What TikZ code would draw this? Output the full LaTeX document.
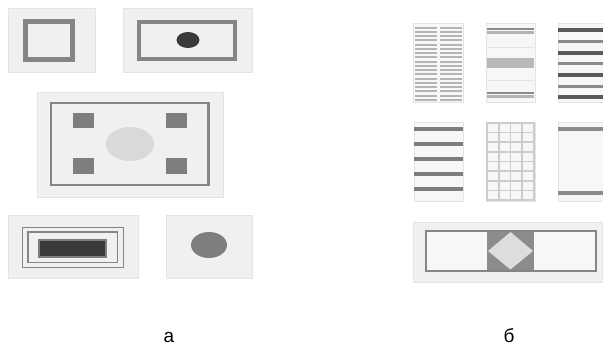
\documentclass[tikz,border=0pt]{standalone}
\usepackage{fontspec}
\setmainfont{Liberation Sans}
\definecolor{panelbg}{HTML}{F0F0F0}
\definecolor{panelline}{HTML}{E4E4E4}
\definecolor{framegray}{HTML}{858585}
\definecolor{darkfill}{HTML}{3A3A3A}
\definecolor{midgray}{HTML}{7E7E7E}
\definecolor{lightoval}{HTML}{D9D9D9}
\definecolor{paper}{HTML}{F9F7F5}
\definecolor{stripelight}{HTML}{B4B4B4}
\definecolor{stripedark}{HTML}{5A5A5A}
\definecolor{stripemid}{HTML}{8C8C8C}
\definecolor{gridline}{HTML}{CDCDCD}
\tikzset{
  panel/.style={fill=panelbg, draw=panelline, line width=0.6pt},
  paperpanel/.style={fill=paper, draw=panelline, line width=0.6pt},
  frame/.style={draw=framegray},
  label/.style={font=\fontsize{19}{22}\selectfont, inner sep=0pt}
}
\begin{document}
\begin{tikzpicture}[x=1pt,y=-1pt]
\useasboundingbox[fill=white] (0,0) rectangle (603,348);
% ---------- left group (a) ----------
% panel 1
\draw[panel] (8,8) rectangle (95,72);
\draw[frame, line width=5.5pt] (25.5,21.5) rectangle (72.5,59.5);
% panel 2
\draw[panel] (123,8) rectangle (252,72);
\draw[frame, line width=4pt] (139,22) rectangle (235,59);
\fill[darkfill] (188,40) ellipse [x radius=11.5, y radius=8];
% panel 3
\draw[panel] (37,92) rectangle (223,197);
\draw[frame, line width=2.8pt] (51,103) rectangle (208.5,185);
\fill[midgray] (73,113) rectangle (94,128);
\fill[midgray] (166,113) rectangle (187,128);
\fill[midgray] (73,158) rectangle (94,174);
\fill[midgray] (166,158) rectangle (187,174);
\fill[lightoval] (130,144) ellipse [x radius=24, y radius=17];
% panel 4
\draw[panel] (8,215) rectangle (138,278);
\draw[frame, line width=1.6pt] (22.5,227.5) rectangle (123.5,267.5);
\draw[frame, line width=1.6pt] (28,232) rectangle (117.5,262.5);
\draw[fill=darkfill, draw=midgray, line width=2.2pt] (39,240) rectangle (106,257);
% panel 5
\draw[panel] (166,215) rectangle (252,278);
\fill[midgray] (209,245) ellipse [x radius=18, y radius=13];
% ---------- right group (b) ----------
% r1: two columns of thin stripes
\draw[paperpanel] (413,23) rectangle (463,102);
\foreach \i in {0,...,17}{
  \fill[stripelight] (415,{26.5+\i*4.25}) rectangle (436.5,{28.7+\i*4.25});
  \fill[stripelight] (440,{26.5+\i*4.25}) rectangle (461.5,{28.7+\i*4.25});
}
% r2
\draw[paperpanel] (486,23) rectangle (535,102);
\fill[stripemid] (487,27.5) rectangle (534,30);
\fill[stripelight] (487,30.8) rectangle (534,33.5);
\draw[panelline, line width=0.5pt] (487,47) -- (534,47);
\fill[lightoval!85!black] (487,58) rectangle (534,67.5);
\draw[panelline, line width=0.5pt] (487,80) -- (534,80);
\fill[stripemid] (487,91.5) rectangle (534,94);
\fill[stripelight] (487,95) rectangle (534,97.5);
% r3
\draw[paperpanel] (558,23) rectangle (604,102);
\foreach \y in {30,52.5,75,97}{\fill[stripedark] (558,{\y-2}) rectangle (604,{\y+2});}
\foreach \y in {41,63.5,86}{\fill[stripemid] (558,{\y-1.5}) rectangle (604,{\y+1.5});}
% r4
\draw[paperpanel] (414,122) rectangle (463,201);
\foreach \y in {129,144,159,173.5,188.5}{\fill[midgray] (414,{\y-2}) rectangle (463,{\y+2});}
% r5: grid
\draw[paperpanel] (486,122) rectangle (535,201);
\draw[gridline, line width=1.8pt] (487,123) rectangle (534,200);
\foreach \i in {1,2,3}{\draw[gridline, line width=1.6pt] ({487+\i*11.75},123) -- ({487+\i*11.75},200);}
\foreach \j in {1,...,7}{\draw[gridline, line width=1.6pt] (487,{123+\j*9.625}) -- (534,{123+\j*9.625});}
% r6
\draw[paperpanel] (558,122) rectangle (604,201);
\fill[stripemid] (558,127) rectangle (604,131);
\fill[stripemid] (558,191) rectangle (604,195);
% r7: bar with diamond
\draw[panel] (413,222) rectangle (602,282);
\draw[fill=paper, draw=framegray, line width=1.2pt] (426,231) rectangle (596,271);
\fill[stripemid] (487,231.6) rectangle (534,270.4);
\fill[lightoval!90!white] (510.5,232) -- (533,251) -- (510.5,269.5) -- (488,251) -- cycle;
% labels
\node[label] (la) at (169,337) {а};
\node[label] (lb) at (509,336) {б};
\end{tikzpicture}
\end{document}
